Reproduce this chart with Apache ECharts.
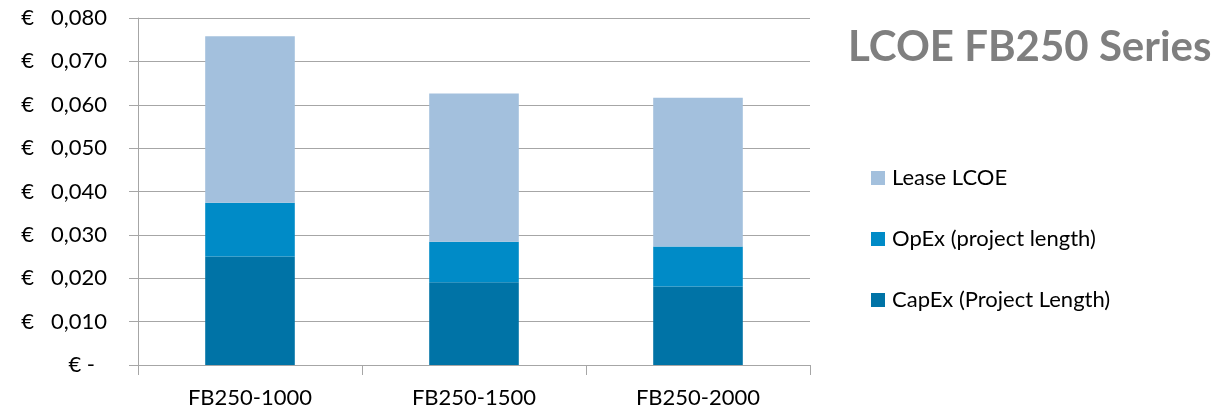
<!DOCTYPE html>
<html>
<head>
<meta charset="utf-8">
<script src="https://cdn.jsdelivr.net/npm/echarts@6/dist/echarts.min.js"></script>
<style>
  html, body { margin: 0; padding: 0; background: #fff; }
  #chart { width: 1232px; height: 413px; }
</style>
</head>
<body>
<div id="chart"></div>
<script>
// LCOE breakdown per FB250 configuration (EUR per kWh)
const categories = ['FB250-1000', 'FB250-1500', 'FB250-2000'];
const capex = [0.0250, 0.0191, 0.0181];
const opex = [0.0124, 0.0093, 0.0092];
const lease = [0.0384, 0.0342, 0.0343];
const seriesNames = ['CapEx (Project Length)', 'OpEx (project length)', 'Lease LCOE'];
const yTicks = { min: 0, max: 0.08, interval: 0.01 };

const FONT = 'Lato, "Open Sans", sans-serif';
const colors = ['#0073A6', '#008BC7', '#A3C0DD'];
const axisGrey = '#A6A6A6';

const chart = echarts.init(document.getElementById('chart'), null, { renderer: 'canvas' });

// accounting-style euro labels: "€  0,010", zero shown as "€ -"
function euro(v) {
  if (v === 0) return '{z|€ -}';
  return '€   ' + v.toFixed(3).replace('.', ',');
}

chart.setOption({
  animation: false,
  textStyle: { fontFamily: FONT },
  title: {
    text: 'LCOE FB250 Series',
    left: 843,
    top: 21,
    textStyle: { fontFamily: FONT, fontSize: 42, fontWeight: 'bold', color: '#7F7F7F' }
  },
  legend: {
    orient: 'vertical',
    left: 866,
    top: 160,
    itemWidth: 14,
    itemHeight: 14,
    itemGap: 35,
    icon: 'rect',
    data: [seriesNames[2], seriesNames[1], seriesNames[0]],
    textStyle: { fontFamily: FONT, fontSize: 22, lineHeight: 26, color: '#000', padding: [0, 0, 0, 2] }
  },
  grid: { left: 138, right: 422, top: 18, bottom: 48, containLabel: false },
  xAxis: {
    type: 'category',
    data: categories,
    axisLine: { show: true, lineStyle: { color: axisGrey, width: 1 } },
    axisTick: { show: true, length: 10, alignWithLabel: false, lineStyle: { color: axisGrey } },
    axisLabel: { fontSize: 22, color: '#000', margin: 22, fontFamily: FONT },
    splitLine: { show: false }
  },
  yAxis: {
    type: 'value',
    min: yTicks.min,
    max: yTicks.max,
    interval: yTicks.interval,
    axisLine: { show: true, lineStyle: { color: axisGrey, width: 1 } },
    axisTick: { show: true, length: 9, inside: false, lineStyle: { color: axisGrey } },
    splitLine: { show: true, lineStyle: { color: axisGrey, width: 1 } },
    axisLabel: {
      fontSize: 22,
      color: '#000',
      margin: 31,
      fontFamily: FONT,
      formatter: euro,
      rich: { z: { fontSize: 22, fontFamily: FONT, color: '#000', padding: [0, 12, 0, 0] } }
    }
  },
  series: [
    { name: seriesNames[0], type: 'bar', stack: 'lcoe', data: capex, barWidth: '40%', itemStyle: { color: colors[0] } },
    { name: seriesNames[1], type: 'bar', stack: 'lcoe', data: opex, barWidth: '40%', itemStyle: { color: colors[1] } },
    { name: seriesNames[2], type: 'bar', stack: 'lcoe', data: lease, barWidth: '40%', itemStyle: { color: colors[2] } }
  ]
});
</script>
</body>
</html>
